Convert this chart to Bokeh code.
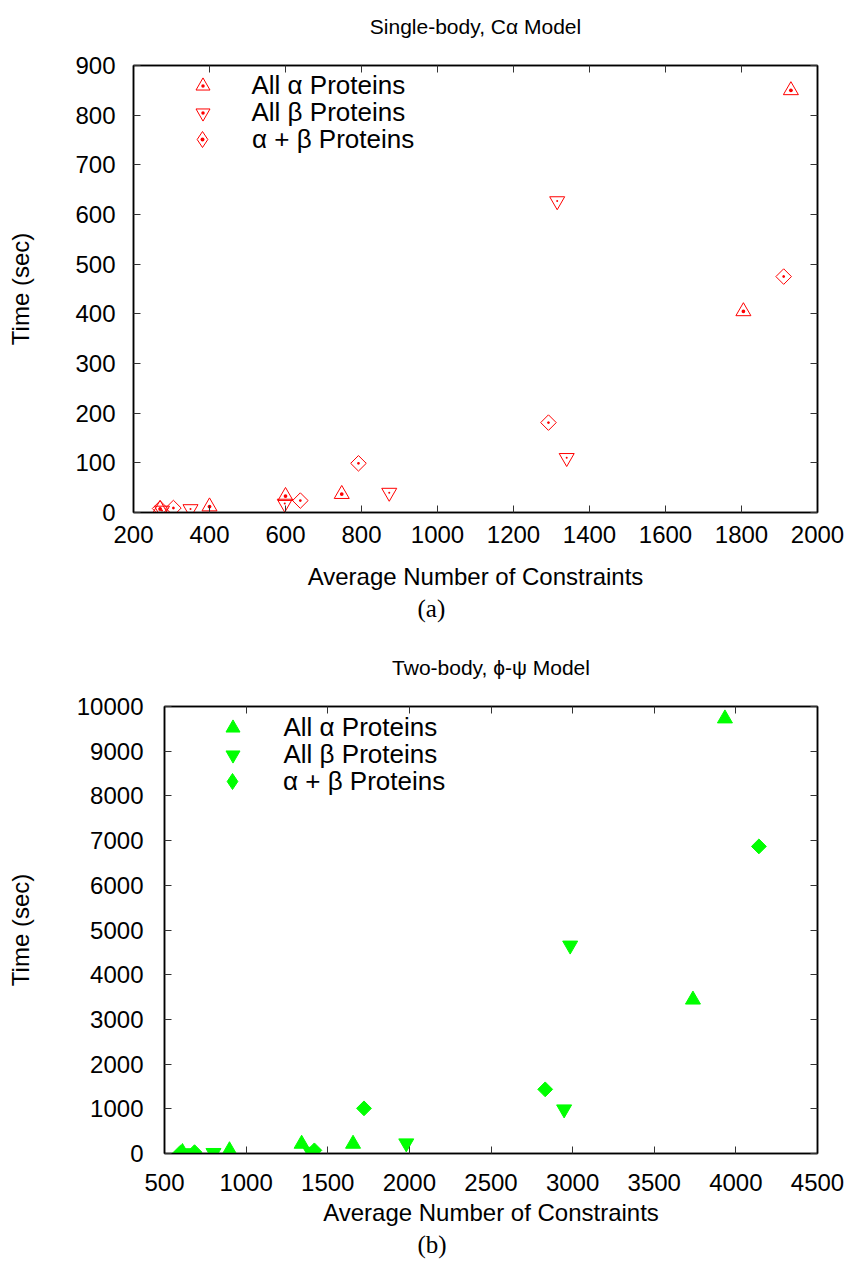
import numpy as np
from bokeh.plotting import figure
from bokeh.models import LinearAxis, Title, Legend, LegendItem, FixedTicker, Range1d
from bokeh.embed import file_html
from bokeh.resources import INLINE

# ---------------- data ----------------
# (a) Single-body, C-alpha model
a_alpha_x = [270, 400, 600, 748, 1805, 1930]
a_alpha_y = [7, 12, 33, 37, 405, 850]
a_beta_x = [275, 350, 598, 873, 1315, 1340]
a_beta_y = [4, 7, 18, 40, 627, 110]
a_ab_x = [270, 305, 639, 792, 1292, 1911]
a_ab_y = [8, 9, 24, 99, 181, 475]

# (b) Two-body, phi-psi model
b_alpha_x = [610, 898, 1340, 1655, 3737, 3933]
b_alpha_y = [30, 70, 215, 215, 3440, 9730]
b_beta_x = [641, 800, 1394, 1981, 2948, 2985]
b_beta_y = [10, 15, 40, 230, 990, 4655]
b_ab_x = [598, 684, 1418, 1722, 2832, 4141]
b_ab_y = [20, 30, 70, 1010, 1435, 6870]

a_xticks = [200, 400, 600, 800, 1000, 1200, 1400, 1600, 1800, 2000]
a_yticks = [0, 100, 200, 300, 400, 500, 600, 700, 800, 900]
b_xticks = [500, 1000, 1500, 2000, 2500, 3000, 3500, 4000, 4500]
b_yticks = [0, 1000, 2000, 3000, 4000, 5000, 6000, 7000, 8000, 9000, 10000]

labels = ["All \u03b1 Proteins", "All \u03b2 Proteins", "\u03b1 + \u03b2 Proteins"]

FONT = "Liberation Sans"
SERIF = "Liberation Serif"


def style_axis(ax, ticks, show_labels=True):
    ax.ticker = FixedTicker(ticks=ticks)
    ax.major_tick_in = 7
    ax.major_tick_out = 0
    ax.minor_tick_line_color = None
    ax.major_tick_line_color = "#333333"
    ax.major_tick_line_width = 1
    ax.axis_line_color = "black"
    ax.axis_line_width = 1.5
    ax.major_label_text_font = FONT
    ax.major_label_text_color = "black"
    ax.major_label_text_font_size = "24px"
    if not show_labels:
        ax.major_label_overrides = {t: "" for t in ticks}
        ax.major_label_standoff = 0


def make_fig(title, cap, xr, yr, xt, yt, height, left, top, bottom, cap_offset,
             xstand, ystand, xlabstand, ylabstand, cap_stand):
    p = figure(width=853, height=height, output_backend="svg", toolbar_location=None,
               x_range=Range1d(*xr), y_range=Range1d(*yr),
               min_border_left=left, min_border_right=36,
               min_border_top=top, min_border_bottom=bottom,
               background_fill_color="white", border_fill_color="white")
    p.grid.visible = False
    p.outline_line_color = "black"
    p.outline_line_width = 1.5
    # trailing empty line lifts the title above the frame, as in the reference
    p.title.text = title + "\n"
    p.title.align = "center"
    p.title.text_font = FONT
    p.title.text_font_style = "normal"
    p.title.text_font_size = "21px"
    p.title.text_color = "black"
    p.title.standoff = 10

    style_axis(p.xaxis[0], xt)
    style_axis(p.yaxis[0], yt)
    p.xaxis[0].major_label_standoff = xstand
    p.yaxis[0].major_label_standoff = ystand
    p.xaxis[0].axis_label = "Average Number of Constraints"
    p.yaxis[0].axis_label = "Time (sec)"
    for ax in (p.xaxis[0], p.yaxis[0]):
        ax.axis_label_text_font = FONT
        ax.axis_label_text_font_style = "normal"
        ax.axis_label_text_font_size = "24px"
        ax.axis_label_text_color = "black"
    p.xaxis[0].axis_label_standoff = xlabstand
    p.yaxis[0].axis_label_standoff = ylabstand

    top_ax = LinearAxis()
    style_axis(top_ax, xt, show_labels=False)
    p.add_layout(top_ax, "above")
    right_ax = LinearAxis()
    style_axis(right_ax, yt, show_labels=False)
    p.add_layout(right_ax, "right")

    p.add_layout(Title(text=cap, align="left", offset=cap_offset, text_font=SERIF,
                       text_font_style="normal", text_font_size="25px",
                       text_color="black", standoff=cap_stand), "below")
    return p


def add_legend_row(p, label, renderers, center_from_top, glyph_px, marker_x, text_x, frame_h=447):
    half = glyph_px / 2
    leg = Legend(items=[LegendItem(label=label, renderers=renderers)],
                 location=(float(marker_x - half), float(frame_h - center_from_top - half)),
                 glyph_width=glyph_px, glyph_height=glyph_px, label_height=glyph_px,
                 label_standoff=int(round(text_x - (marker_x + half))), padding=0, margin=0,
                 spacing=0, background_fill_alpha=0, border_line_color=None,
                 label_text_font=FONT, label_text_font_size="26px", label_text_color="black")
    p.add_layout(leg)


# ---------------- (a) ----------------
p1 = make_fig("Single-body, C\u03b1 Model", "(a)", (200, 2000), (0, 900), a_xticks, a_yticks,
              633, 133, 65, 121, 284, 13, 18, 17, 38, 0)
red = "#ff0000"
r1 = p1.scatter(a_alpha_x, a_alpha_y, marker="triangle_dot", size=15, fill_color=None,
                line_color=red, line_width=1)
r2 = p1.scatter(a_beta_x, a_beta_y, marker="inverted_triangle", size=15, fill_color=None,
                line_color=red, line_width=1)
r2d = p1.scatter(a_beta_x, a_beta_y, marker="dot", size=8, fill_color=red, line_color=red)
r3 = p1.scatter(a_ab_x, a_ab_y, marker="square_dot", angle=np.pi / 4, size=11, fill_color=None,
                line_color=red, line_width=1)
# legend-only swatch (legends draw markers unrotated); its single point is not a number
r3leg = p1.scatter([np.nan], [np.nan], marker="diamond_dot", fill_color=None, line_color=red,
                   line_width=1)

add_legend_row(p1, labels[0], [r1], 20, 35, 69, 119)
add_legend_row(p1, labels[1], [r2, r2d], 47, 35, 69, 119)
add_legend_row(p1, labels[2], [r3leg], 74, 40, 69, 119)

# ---------------- (b) ----------------
p2 = make_fig("Two-body, \u03d5-\u03c8 Model", "(b)", (500, 4500), (0, 10000), b_xticks, b_yticks,
              633, 164, 73, 113, 253, 20, 21, 5, 40, 0)
green = "#00ff00"
s1 = p2.scatter(b_alpha_x, b_alpha_y, marker="triangle", size=15, fill_color=green,
                line_color=green)
s2 = p2.scatter(b_beta_x, b_beta_y, marker="inverted_triangle", size=15, fill_color=green,
                line_color=green)
s3 = p2.scatter(b_ab_x, b_ab_y, marker="square", angle=np.pi / 4, size=10.5, fill_color=green,
                line_color=green)
s3leg = p2.scatter([np.nan], [np.nan], marker="diamond", fill_color=green, line_color=green)

add_legend_row(p2, labels[0], [s1], 21, 35, 68, 119)
add_legend_row(p2, labels[1], [s2], 48, 35, 68, 119)
add_legend_row(p2, labels[2], [s3leg], 75, 40, 68, 119)

p = [p1, p2]
open("out.html", "w").write(file_html(p, INLINE))
